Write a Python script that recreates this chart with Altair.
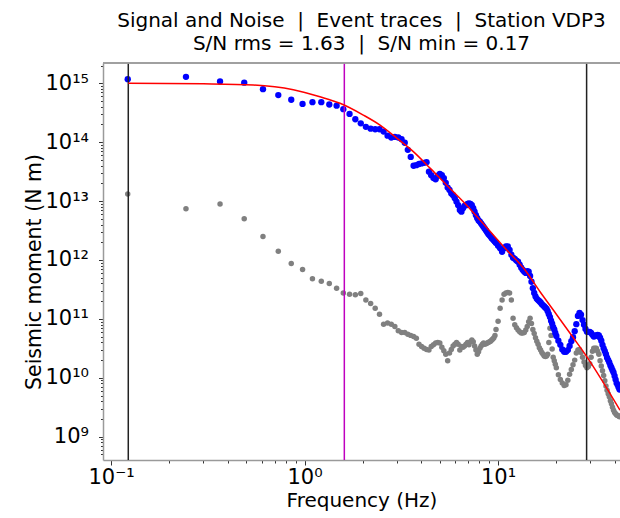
import altair as alt
import pandas as pd

# Frequency samples (Hz) shared by the signal and noise spectra
freq_hz = [
    0.122, 0.244, 0.366, 0.488, 0.610, 0.732, 0.854, 0.977, 1.099, 1.221,
    1.343, 1.465, 1.587, 1.709, 1.831, 1.953, 2.075, 2.197, 2.319, 2.441,
    2.563, 2.686, 2.808, 2.930, 3.052, 3.174, 3.296, 3.418, 3.540, 3.662,
    3.784, 3.906, 4.028, 4.150, 4.272, 4.395, 4.517, 4.639, 4.761, 4.883,
    5.005, 5.127, 5.249, 5.371, 5.493, 5.615, 5.737, 5.859, 5.981, 6.104,
    6.226, 6.348, 6.470, 6.592, 6.714, 6.836, 6.958, 7.080, 7.202, 7.324,
    7.446, 7.568, 7.690, 7.813, 7.935, 8.057, 8.179, 8.301, 8.423, 8.545,
    8.667, 8.789, 8.911, 9.033, 9.155, 9.277, 9.399, 9.521, 9.644, 9.766,
    10.010, 10.254, 10.498, 10.742, 10.986, 11.230, 11.475, 11.719, 11.963, 12.207,
    12.451, 12.695, 12.939, 13.184, 13.428, 13.672, 13.916, 14.160, 14.404, 14.648,
    14.893, 15.137, 15.381, 15.625, 15.869, 16.113, 16.357, 16.602, 16.846, 17.090,
    17.334, 17.578, 17.822, 18.066, 18.311, 18.555, 18.799, 19.043, 19.287, 19.531,
    19.775, 20.020,
    20.508, 20.996, 21.484, 21.973, 22.461, 22.949, 23.438, 23.926, 24.414, 24.902,
    25.391, 25.879, 26.367, 26.855, 27.344, 27.832, 28.320, 28.809, 29.297, 29.785,
    30.273, 30.762, 31.250, 31.738, 32.227, 32.715, 33.203, 33.691, 34.180, 34.668,
    35.156, 35.645, 36.133, 36.621, 37.109, 37.598, 38.086, 38.574, 39.063, 39.551,
    40.039, 40.527, 41.016, 41.504, 41.992, 42.480,
]

# log10 of the seismic moment (N m), event window
signal_log10 = [
    15.07, 15.11, 15.03, 15.01, 14.90, 14.80, 14.72, 14.65, 14.68, 14.68,
    14.64, 14.62, 14.56, 14.48, 14.39, 14.32, 14.26, 14.23, 14.22, 14.22,
    14.18, 14.11, 14.08, 14.09, 14.08, 14.05, 13.99, 13.87, 13.75, 13.60,
    13.61, 13.63, 13.64, 13.65, 13.66, 13.50, 13.44, 13.39, 13.37, 13.43,
    13.46, 13.44, 13.39, 13.31, 13.23, 13.19, 13.13, 13.10, 13.05, 12.99,
    12.93, 12.85, 12.82, 12.88, 12.92, 12.93, 12.95, 12.96, 12.95, 12.93,
    12.88, 12.82, 12.76, 12.71, 12.67, 12.65, 12.62, 12.59, 12.56, 12.53,
    12.50, 12.47, 12.44, 12.42, 12.40, 12.37, 12.35, 12.33, 12.31, 12.29,
    12.24, 12.20, 12.14, 12.20, 12.23, 12.23, 12.17, 12.09, 12.04, 12.02,
    11.99, 11.97, 11.92, 11.87, 11.83, 11.80, 11.78, 11.81, 11.80, 11.73,
    11.63, 11.52, 11.44, 11.38, 11.34, 11.32, 11.30, 11.28, 11.25, 11.23,
    11.21, 11.19, 11.17, 11.13, 11.08, 11.03, 10.97, 10.92, 10.86, 10.82,
    10.76, 10.71,
    10.63, 10.56, 10.48, 10.44, 10.44, 10.47, 10.54, 10.62, 10.69, 10.79,
    10.91, 11.05, 11.10, 11.07, 10.98, 10.90, 10.83, 10.78, 10.78, 10.78,
    10.76, 10.73, 10.70, 10.71, 10.72, 10.73, 10.72, 10.68, 10.63, 10.56,
    10.50, 10.45, 10.40, 10.34, 10.30, 10.26, 10.21, 10.17, 10.13, 10.09,
    10.03, 9.97, 9.91, 9.88, 9.84, 9.80,
]

# log10 of the seismic moment (N m), pre-event noise window
noise_log10 = [
    13.12, 12.87, 12.95, 12.70, 12.40, 12.15, 11.94, 11.84, 11.68, 11.64,
    11.60, 11.52, 11.44, 11.42, 11.41, 11.43, 11.32, 11.26, 11.18, 11.08,
    10.91, 10.93, 10.91, 10.87, 10.80, 10.77, 10.77, 10.74, 10.72, 10.70,
    10.67, 10.57, 10.53, 10.50, 10.48, 10.47, 10.53, 10.56, 10.59, 10.60,
    10.59, 10.52, 10.46, 10.40, 10.29, 10.42, 10.48, 10.54, 10.57, 10.60,
    10.57, 10.47, 10.53, 10.52, 10.54, 10.57, 10.60, 10.56, 10.61, 10.64,
    10.61, 10.54, 10.47, 10.40, 10.44, 10.50, 10.54, 10.57, 10.59, 10.57,
    10.58, 10.59, 10.60, 10.61, 10.62, 10.64, 10.66, 10.68, 10.72, 10.82,
    10.96, 11.18, 11.32, 11.42, 11.44, 11.45, 11.44, 11.32, 11.01, 10.90,
    10.85, 10.81, 10.78, 10.76, 10.76, 10.77, 10.81, 10.87, 10.95, 11.01,
    10.92, 10.82, 10.75, 10.68, 10.62, 10.57, 10.51, 10.47, 10.43, 10.40,
    10.37, 10.36, 10.37, 10.40, 10.60, 10.84, 10.72, 10.49, 10.35, 10.29,
    10.23, 10.17,
    10.05, 9.97, 9.91, 9.87, 9.88, 9.96, 10.06, 10.14, 10.22, 10.30,
    10.42, 10.47, 10.48, 10.43, 10.35, 10.27, 10.21, 10.17, 10.19, 10.24,
    10.35, 10.45, 10.50, 10.50, 10.50, 10.45, 10.40, 10.29, 10.20, 10.12,
    10.04, 9.95, 9.86, 9.79, 9.73, 9.68, 9.61, 9.56, 9.50, 9.45,
    9.41, 9.39, 9.37, 9.36, 9.35, 9.34,
]

# Fitted source spectrum
model_freq_hz = [0.1228, 0.3, 0.544, 0.875, 1.202, 1.526, 2.013, 2.456, 2.996, 3.651,
                 4.453, 5.431, 6.618, 8.07, 11.09, 13.79, 16.49, 19.31, 24.5, 28.73, 42.7]
model_log10 = [15.00, 14.99, 14.97, 14.89, 14.77, 14.66, 14.46, 14.29, 14.07, 13.84,
               13.56, 13.27, 12.99, 12.68, 12.17, 11.83, 11.46, 11.15, 10.68, 10.36, 9.45]

# Frequency band limits and corner frequency (Hz)
band_limits_hz = [0.1228, 28.7]
corner_freq_hz = [1.606]

SEP = "\u00a0\u00a0|\u00a0\u00a0"
title_lines = ["Signal and Noise" + SEP + "Event traces" + SEP + "Station VDP3",
               "S/N rms = 1.63" + SEP + "S/N min = 0.17"]

FONT = "DejaVu Sans"
W, H = 517, 397

signal_df = pd.DataFrame({"f": freq_hz, "m": [10 ** v for v in signal_log10]})
noise_df = pd.DataFrame({"f": freq_hz, "m": [10 ** v for v in noise_log10]})
model_df = pd.DataFrame({"f": model_freq_hz, "m": [10 ** v for v in model_log10]})
band_df = pd.DataFrame({"f": band_limits_hz})
corner_df = pd.DataFrame({"f": corner_freq_hz})

xs = alt.Scale(type="log", domain=[0.0909, 42.7], nice=False)
ys = alt.Scale(type="log", domain=[4.02e8, 2.21e15], nice=False)

sup = str.maketrans("0123456789-", "⁰¹²³⁴⁵⁶⁷⁸⁹⁻")
x_exps = [-1, 0, 1]
y_exps = list(range(9, 16))
x_labels = ["10" + str(e).translate(sup) for e in x_exps]
y_labels = ["10" + str(e).translate(sup) for e in y_exps]


def label_expr(labels, first_exp):
    arr = "[" + ",".join("'" + s + "'" for s in labels) + "]"
    return f"{arr}[round(log(datum.value)/LN10) - ({first_exp})]"


x_major = [10.0 ** e for e in x_exps]
y_major = [10.0 ** e for e in y_exps]
x_minor = [m * 10.0 ** e for e in (-2, -1, 0, 1) for m in range(2, 10)]
x_minor = [v for v in x_minor if 0.0909 <= v <= 42.7]
y_minor = [m * 10.0 ** e for e in range(8, 16) for m in range(2, 10)]
y_minor = [v for v in y_minor if 4.02e8 <= v <= 2.21e15]

SPINE = "#9a9a9a"
TICK = "#333333"

x_axis_major = alt.Axis(orient="bottom", offset=0, values=x_major,
                        labelExpr=label_expr(x_labels, -1), tickSize=5,
                        tickColor=TICK, tickWidth=1, domainColor=SPINE, domainWidth=1.5,
                        labelFontSize=21, labelColor="black", labelPadding=1,
                        title="Frequency (Hz)", titleFontSize=20, titleFontWeight="normal",
                        titleColor="black", titlePadding=3, grid=False, labelFlush=False)
x_axis_minor = alt.Axis(orient="bottom", offset=0, values=x_minor, tickSize=3,
                        tickColor=TICK, tickWidth=1,
                        labels=False, domain=False, title=None, grid=False)
y_axis_major = alt.Axis(orient="left", offset=0, values=y_major,
                        labelExpr=label_expr(y_labels, 9), tickSize=4.5,
                        tickColor=TICK, tickWidth=1, domainColor=SPINE, domainWidth=1.5,
                        labelFontSize=21, labelColor="black", labelPadding=10,
                        title="Seismic moment (N m)", titleFontSize=20.5, titleFontWeight="normal",
                        titleColor="black", titleAngle=270, titleAlign="center",
                        titleBaseline="bottom", titleX=-59, titleY=H / 2 + 10,
                        grid=False, labelFlush=False)
y_axis_minor = alt.Axis(orient="left", offset=0, values=y_minor, tickSize=2.5,
                        tickColor=TICK, tickWidth=1,
                        labels=False, domain=False, title=None, grid=False)

noise = alt.Chart(noise_df).mark_circle(color="#808080", size=30, opacity=1, clip=True).encode(
    x=alt.X("f:Q", scale=xs, axis=x_axis_minor),
    y=alt.Y("m:Q", scale=ys, axis=y_axis_minor),
)
signal = alt.Chart(signal_df).mark_circle(color="#0000ff", size=40, opacity=1, clip=True).encode(
    x=alt.X("f:Q", scale=xs, axis=x_axis_major),
    y=alt.Y("m:Q", scale=ys, axis=y_axis_major),
)
band = alt.Chart(band_df).mark_rule(color="#222222", strokeWidth=1.5).encode(
    x=alt.X("f:Q", scale=xs, axis=None)
)
corner = alt.Chart(corner_df).mark_rule(color="#bf00bf", strokeWidth=1.5).encode(
    x=alt.X("f:Q", scale=xs, axis=None)
)
model = alt.Chart(model_df).mark_line(color="#ff0000", strokeWidth=1.5, interpolate="monotone",
                                      clip=True).encode(
    x=alt.X("f:Q", scale=xs, axis=None),
    y=alt.Y("m:Q", scale=ys, axis=None),
)
top_border = alt.Chart(band_df).mark_rule(color=SPINE, strokeWidth=1.5).encode(
    x=alt.value(0), x2=alt.value(W), y=alt.value(0)
)

chart = (
    alt.layer(noise, signal, band, corner, model, top_border)
    .resolve_axis(x="independent", y="independent")
    .properties(
        width=W,
        height=H,
        padding={"left": 103, "top": 63, "right": 0, "bottom": 58},
        autosize=alt.AutoSizeParams(type="none"),
        title=alt.TitleParams(text=title_lines, fontSize=20, font=FONT, fontWeight="normal",
                              anchor="middle", color="black", lineHeight=23, offset=8),
    )
    .configure(font=FONT)
    .configure_view(stroke=None)
    .configure_axis(labelFont=FONT, titleFont=FONT)
)

chart.save("out.html", embed_options={"renderer": "svg", "actions": False})
